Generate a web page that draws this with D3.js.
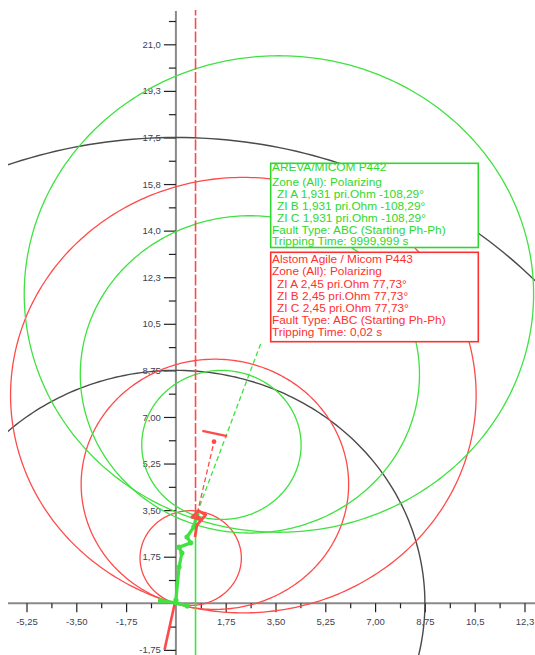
<!DOCTYPE html>
<html>
<head>
<meta charset="utf-8">
<script src="https://cdn.jsdelivr.net/npm/d3@7"></script>
<style>
  html, body { margin: 0; padding: 0; background: #ffffff; }
  svg { display: block; }
  .tick text { font-family: "Liberation Sans", Arial, sans-serif; font-size: 9.5px; fill: #3a3f58; }
</style>
</head>
<body>
<svg id="chart" width="535" height="655"></svg>
<script>
// ---- Axis ticks (impedance plane, Ohm) ----
const xTickValues = [-5.25, -3.5, -1.75, 1.75, 3.5, 5.25, 7, 8.75, 10.5, 12.25];
const xTickLabels = ["-5,25", "-3,50", "-1,75", "1,75", "3,50", "5,25", "7,00", "8,75", "10,5", "12,3"];
const yTickValues = [-1.75, 1.75, 3.5, 5.25, 7, 8.75, 10.5, 12.25, 14, 15.75, 17.5, 19.25, 21];
const yTickLabels = ["-1,75", "1,75", "3,50", "5,25", "7,00", "8,75", "10,5", "12,3", "14,0", "15,8", "17,5", "19,3", "21,0"];

// ---- Characteristic circles: [centre R, centre X, radius] ----
const refCircles   = [[0, 0, 8.75], [0, 0, 17.5]];
const p443Circles  = [[0.52, 1.70, 1.78], [1.37, 4.47, 4.70], [2.37, 7.82, 8.18]];
const p442Circles  = [[1.60, 5.95, 2.80], [2.60, 8.60, 5.96], [3.62, 11.62, 8.95]];

// ---- Measured impedance trajectories [R, X] ----
const p442TrackA = [[-0.54, 0.10], [0.0, 0.02], [0.40, -0.10]];
const p442TrackB = [[0.0, 0.12], [0.11, 1.36], [0.21, 1.89], [0.11, 2.11], [0.52, 2.27], [0.39, 2.49], [0.63, 2.87], [0.74, 3.35]];
const p443Track  = [[0.67, 2.49], [0.74, 2.94], [1.05, 3.32], [0.81, 3.47], [0.56, 3.24], [0.91, 3.13], [0.72, 3.30]];

// ---- Line-angle / direction elements [R, X] ----
const p443Reverse   = [[-0.40, -1.75], [-0.04, 0.0]];
const p443AngleLine = [[0.75, 3.38], [1.34, 6.07]];
const p443Marker    = [1.34, 6.07];
const p443Bar       = [[0.93, 6.48], [1.80, 6.28]];
const p442AngleLine = [[0.74, 3.38], [2.99, 9.78]];
const limitR        = 0.69;
const limitSplitX   = 3.30;

// ---- Legend texts ----
const p442Legend = ["AREVA/MICOM P442", "Zone (All): Polarizing",
  "ZI A 1,931 pri.Ohm -108,29°", "ZI B 1,931 pri.Ohm -108,29°", "ZI C 1,931 pri.Ohm -108,29°",
  "Fault Type: ABC (Starting Ph-Ph)", "Tripping Time: 9999,999 s"];
const p443Legend = ["Alstom Agile / Micom P443", "Zone (All): Polarizing",
  "ZI A 2,45 pri.Ohm 77,73°", "ZI B 2,45 pri.Ohm 77,73°", "ZI C 2,45 pri.Ohm 77,73°",
  "Fault Type: ABC (Starting Ph-Ph)", "Tripping Time: 0,02 s"];

const GREEN = "#3fe23f", GREEN_TXT = "#2fd82f";
const RED = "#ff4a4a", RED_TXT = "#ff3030";
const GREY = "#4a4a4a";

const svg = d3.select("#chart");
const x = d3.scaleLinear().domain([-5.25, 12.25]).range([26.5, 524.5]);
const y = d3.scaleLinear().domain([0, 21]).range([603.3, 44.3]);
const x0 = x(0), y0 = y(0);

svg.append("defs").append("clipPath").attr("id", "plot")
  .append("rect").attr("x", 8).attr("y", 10).attr("width", 527).attr("height", 645);

// ---- Axes ----
const axisLayer = svg.append("g");
axisLayer.append("line").attr("x1", 8).attr("x2", 535).attr("y1", y0).attr("y2", y0)
  .attr("stroke", "#8a8a8a").attr("stroke-width", 2);
axisLayer.append("line").attr("x1", x0).attr("x2", x0).attr("y1", 11).attr("y2", 655)
  .attr("stroke", "#8a8a8a").attr("stroke-width", 2);

const xMinor = d3.range(-5.25, 12.3, 0.875).filter(v => Math.abs(v) > 1e-6 && Math.abs(((v / 1.75) % 1)) > 1e-6);
const yMinor = d3.range(-1.75, 22.0, 0.875).filter(v => Math.abs(v) > 1e-6 && Math.abs(((v / 1.75) % 1)) > 1e-6);

const gx = axisLayer.append("g").attr("transform", `translate(0,${y0})`)
  .call(d3.axisBottom(x).tickValues(xTickValues).tickFormat((d, i) => xTickLabels[i]).tickSize(9).tickPadding(6));
const gxm = axisLayer.append("g").attr("transform", `translate(0,${y0})`)
  .call(d3.axisBottom(x).tickValues(xMinor).tickFormat("").tickSize(5));
const gy = axisLayer.append("g").attr("transform", `translate(${x0},0)`)
  .call(d3.axisLeft(y).tickValues(yTickValues).tickFormat((d, i) => yTickLabels[i]).tickSize(12).tickPadding(3));
const gym = axisLayer.append("g").attr("transform", `translate(${x0},0)`)
  .call(d3.axisLeft(y).tickValues(yMinor).tickFormat("").tickSize(7));
[gx, gxm, gy, gym].forEach(g => {
  g.select(".domain").remove();
  g.selectAll(".tick line").attr("stroke", "#222").attr("stroke-width", 1.2);
});

// ---- Curves ----
const plot = svg.append("g").attr("clip-path", "url(#plot)");
const line = d3.line().x(d => x(d[0])).y(d => y(d[1]));
const circlePath = c => line(d3.range(0, 361, 1).map(a => {
  const t = a * Math.PI / 180;
  return [c[0] + c[2] * Math.cos(t), c[1] + c[2] * Math.sin(t)];
}));

plot.selectAll(".ref").data(refCircles).join("path").attr("class", "ref")
  .attr("d", circlePath).attr("fill", "none").attr("stroke", GREY).attr("stroke-width", 1.4);
plot.selectAll(".p443").data(p443Circles).join("path").attr("class", "p443")
  .attr("d", circlePath).attr("fill", "none").attr("stroke", RED).attr("stroke-width", 1.3);
plot.selectAll(".p442").data(p442Circles).join("path").attr("class", "p442")
  .attr("d", circlePath).attr("fill", "none").attr("stroke", GREEN).attr("stroke-width", 1.3);

// vertical limit line: dashed red above the split, solid green below
plot.append("path").attr("d", line([[limitR, 23], [limitR, limitSplitX]]))
  .attr("stroke", RED).attr("stroke-width", 1.6).attr("stroke-dasharray", "11,2.5").attr("fill", "none");
plot.append("path").attr("d", line([[limitR, limitSplitX], [limitR, -2.2]]))
  .attr("stroke", GREEN).attr("stroke-width", 1.6).attr("fill", "none");

// line-angle indicators
plot.append("path").attr("d", line(p442AngleLine))
  .attr("stroke", GREEN).attr("stroke-width", 1.3).attr("stroke-dasharray", "5,3").attr("fill", "none");
plot.append("path").attr("d", line(p443AngleLine))
  .attr("stroke", RED).attr("stroke-width", 1.3).attr("stroke-dasharray", "5,3").attr("fill", "none");
plot.append("path").attr("d", line(p443Bar))
  .attr("stroke", RED).attr("stroke-width", 2.4).attr("fill", "none");
plot.append("circle").attr("cx", x(p443Marker[0])).attr("cy", y(p443Marker[1])).attr("r", 2.4).attr("fill", RED);
plot.append("path").attr("d", line(p443Reverse))
  .attr("stroke", RED).attr("stroke-width", 2.6).attr("fill", "none");

// trajectories
[p442TrackA, p442TrackB].forEach(tr => {
  plot.append("path").attr("d", line(tr)).attr("stroke", GREEN).attr("stroke-width", 3.2)
    .attr("fill", "none").attr("stroke-linejoin", "round");
  plot.selectAll(null).data(tr).join("circle").attr("cx", d => x(d[0])).attr("cy", d => y(d[1]))
    .attr("r", 2.6).attr("fill", GREEN);
});
plot.append("path").attr("d", line(p443Track)).attr("stroke", RED).attr("stroke-width", 2.8)
  .attr("fill", "none").attr("stroke-linejoin", "round");

// ---- Legend boxes ----
function legendBox(top, bottom, lines, colour, baselines) {
  const g = svg.append("g");
  g.append("rect").attr("x", 270.7).attr("y", top).attr("width", 207.6).attr("height", bottom - top)
    .attr("fill", "#ffffff").attr("stroke", colour).attr("stroke-width", 1.6);
  g.selectAll("text").data(lines).join("text")
    .attr("transform", (d, i) => `translate(${(i >= 2 && i <= 4) ? 277 : 272},${baselines[i]}) scale(1.14,1)`)
    .attr("font-family", "'Liberation Sans', Arial, sans-serif").attr("font-size", 10.4)
    .attr("fill", colour).text(d => d);
}
legendBox(163.3, 247.5, p442Legend, GREEN_TXT, [170.5, 185.5, 197.5, 209.5, 221.5, 234, 245]);
legendBox(252.3, 341.7, p443Legend, RED_TXT, [262.5, 275, 287.5, 299.5, 311.5, 324, 336]);
</script>
</body>
</html>
